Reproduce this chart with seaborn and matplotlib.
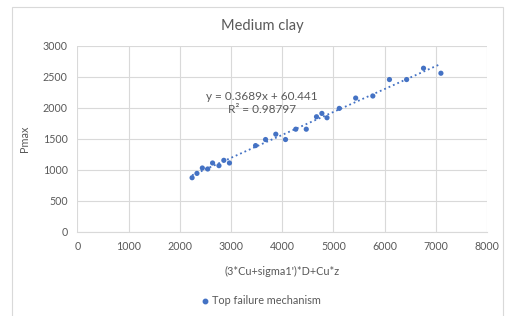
"""
Medium clay: Pmax vs (3*Cu+sigma1')*D+Cu*z, with linear trendline (Excel-style chart).
"""

import numpy as np
import pandas as pd
import matplotlib.pyplot as plt
import seaborn as sns
from matplotlib.patches import Rectangle

# ── data ──────────────────────────────────────────────────────────────────────
x_vals = [2240, 2335, 2440, 2545, 2640, 2765, 2860, 2970, 3480, 3675, 3875, 4065,
          4265, 4470, 4670, 4775, 4875, 5115, 5435, 5770, 6095, 6430, 6760, 7100]
pmax = [872, 942, 1029, 1013, 1110, 1067, 1153, 1110, 1391, 1489, 1575, 1489,
        1656, 1656, 1857, 1911, 1841, 1992, 2159, 2192, 2458, 2458, 2641, 2560]
x_ticks = [0, 1000, 2000, 3000, 4000, 5000, 6000, 7000, 8000]
y_ticks = [0, 500, 1000, 1500, 2000, 2500, 3000]
eq_text = "y = 0.3689x + 60.441\nR² = 0.98797"

X_COL = "(3*Cu+sigma1')*D+Cu*z"
Y_COL = "Pmax"
BLUE = "#4472C4"
GRID = "#D9D9D9"
TEXT = "#595959"

df = pd.DataFrame({X_COL: x_vals, Y_COL: pmax})

sns.set_style("white")
plt.rcParams["font.family"] = ["Lato", "DejaVu Sans"]

fig = plt.figure(figsize=(5.11, 3.16), dpi=100)
ax = fig.add_axes([77.4 / 511, 1 - 231.7 / 316, (487 - 77.4) / 511, (231.7 - 46) / 316])

# chart frame
fig.patches.append(Rectangle((12 / 511, -0.05), (503 - 12) / 511, (1 - 6.5 / 316) + 0.05,
                             transform=fig.transFigure, fill=False,
                             edgecolor=GRID, linewidth=0.8))

sns.regplot(data=df, x=X_COL, y=Y_COL, ax=ax, ci=None, truncate=True,
            scatter_kws={"s": 14, "color": BLUE, "alpha": 1, "edgecolors": "none",
                         "zorder": 3},
            line_kws={"color": BLUE, "linewidth": 1.3, "linestyle": ":", "zorder": 2})

ax.set_xlim(0, 8000)
ax.set_ylim(0, 3000)
ax.set_xticks(x_ticks)
ax.set_yticks(y_ticks)
ax.grid(True, color=GRID, linewidth=0.8)
ax.set_axisbelow(True)
for side in ["top", "right", "left"]:
    ax.spines[side].set_visible(False)
ax.spines["bottom"].set_color(GRID)
ax.spines["bottom"].set_linewidth(0.8)
ax.tick_params(axis="both", length=0, labelsize=7.7, labelcolor=TEXT, pad=7)

ax.set_xlabel(X_COL, fontsize=7.8, color=TEXT, labelpad=10)
ax.set_ylabel(Y_COL, fontsize=7.8, color=TEXT, labelpad=9)

ax.text(3600, 2080, eq_text, ha="center", va="center", fontsize=8.5,
        color=TEXT, linespacing=1.25)

fig.text(262 / 511, 1 - 26 / 316, "Medium clay", ha="center", va="center",
         fontsize=10.5, color=TEXT)

# legend below the axes
fig.lines.append(plt.Line2D([205 / 511], [1 - 301 / 316], marker="o", markersize=3.2,
                            color=BLUE, linestyle="none", transform=fig.transFigure))
fig.text(212 / 511, 1 - 301 / 316, "Top failure mechanism", ha="left", va="center",
         fontsize=7.8, color=TEXT)

fig.savefig("out.png", dpi=100)
